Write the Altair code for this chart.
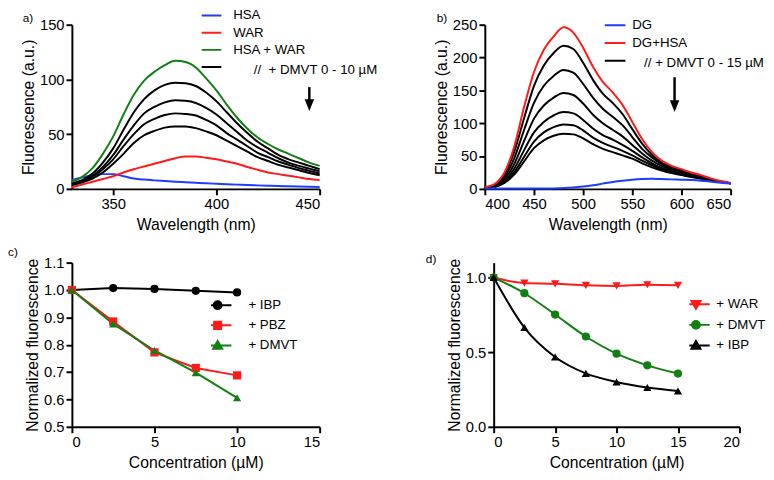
import altair as alt
import pandas as pd

FONT = "Liberation Sans"
BLUE = "#1f3cff"
RED = "#ff1a1a"
GREEN = "#127f12"
BLACK = "#000000"

# ---------------- Panel a ----------------
wl_a = [330, 335, 340, 345, 350, 355, 360, 365, 370, 375, 380, 385, 390, 395,
        400, 405, 410, 415, 420, 425, 430, 435, 440, 445, 450]
a_hsa = [8, 10.5, 12.5, 13.5, 13.5, 11.5, 9.5, 8.5, 7.8, 7.2, 6.6, 6.1, 5.6, 5.1,
         4.7, 4.3, 3.9, 3.5, 3.2, 2.9, 2.6, 2.4, 2.2, 2.0, 1.8]
a_war = [1.5, 4, 6.5, 9, 11.5, 15, 18, 20.5, 23, 25.5, 28, 29.5, 29.5, 28.5,
         27, 25, 23, 20, 17.5, 15, 13.5, 12, 10.5, 9, 8]
a_hsa_war = [6.5, 11, 19, 32, 48, 68, 86, 99, 107, 113, 117, 116, 111, 101,
             90, 77, 65, 55, 47, 41, 36, 32, 28, 24, 21]
a_dmvt = [
    [5, 8, 14, 24, 37, 54, 70, 82, 90, 95, 97, 96.5, 94, 88, 80, 70, 60, 51, 43, 37, 31, 27, 24, 21, 18],
    [4.5, 7, 12, 20, 31, 45, 58, 69, 75, 79, 81, 80.5, 78.5, 74, 68, 60, 52, 44, 38, 33, 28, 24, 21, 18.5, 16],
    [4, 6.5, 11, 18, 27, 39, 50, 59, 64, 67.5, 69, 68.5, 67, 63, 58, 51, 45, 39, 33, 29, 25, 22, 19, 16.5, 14],
    [3.5, 6, 9.5, 15, 23, 32, 42, 49, 53, 56, 57, 57, 55.5, 52.5, 49, 44, 39, 34, 29, 25.5, 22, 19.5, 17, 14.5, 12.5],
]
names_a = ["HSA", "WAR", "HSA + WAR", "DMVT"]
dmvt_text_a = "//\u00a0\u00a0+ DMVT 0 - 10 \u00b5M"
arrow_a_x = 445
arrow_a_shaft = [93, 81]
arrow_a_head = 76.5

# ---------------- Panel b ----------------
wl_b = [400, 410, 420, 430, 440, 450, 460, 470, 480, 490, 500, 510, 520, 530,
        540, 550, 560, 570, 580, 590, 600, 610, 620, 630, 640, 650]
b_dg = [0.5, 0.5, 0.5, 0.5, 0.5, 0.5, 0.6, 0.8, 1.2, 2, 3.5, 5.5, 8, 10.5,
        12.5, 14, 15, 15.5, 15, 14.5, 14, 13.5, 12.5, 11, 9.5, 8]
b_dg_hsa = [2.5, 7.5, 25, 65, 125, 178, 212, 232, 246, 238, 215, 186, 163, 147,
            128, 102, 76, 56, 43, 35, 30, 25, 21, 16, 12, 9]
b_dmvt = [
    [2, 6, 22, 57, 108, 157, 188, 207, 218, 213, 192, 166, 145, 131, 114, 91, 69, 52, 40, 33, 28, 23, 19, 15, 11, 8.5],
    [2, 5, 18, 47, 90, 131, 157, 172, 181, 177, 160, 139, 122, 110, 97, 79, 61, 48, 38, 31, 27, 22, 18, 14.5, 11, 8.5],
    [2, 4.5, 15, 38, 73, 107, 127, 139, 146, 143, 130, 113, 100, 90, 80, 67, 54, 43, 35, 29, 25, 21, 17, 14, 11, 8.5],
    [1.5, 3.5, 12, 31, 59, 86, 102, 112, 117, 115, 105, 92, 82, 75, 67, 58, 48, 39, 32, 27, 23, 20, 16.5, 13.5, 10.5, 8.5],
    [1.5, 3, 10, 26, 49, 72, 86, 94, 98, 97, 89, 78, 70, 64, 58, 51, 43, 36, 30, 25, 22, 19, 16, 13, 10.5, 8.5],
    [1, 3, 9, 22, 42, 62, 74, 81, 84, 83, 77, 68, 61, 56, 51, 46, 39, 33, 28, 24, 21, 18, 15.5, 13, 10.5, 8.5],
]
names_b = ["DG", "DG+HSA", "DMVT"]
dmvt_text_b = "// + DMVT 0 - 15 \u00b5M"
arrow_b_x = 593
arrow_b_shaft = [170, 130]
arrow_b_head = 126

# ---------------- Panel c ----------------
conc_c = [0, 2.5, 5, 7.5, 10]
c_ibp = [1.0, 1.007, 1.004, 0.997, 0.991]
c_pbz = [1.0, 0.885, 0.772, 0.715, 0.688]
c_dmvt = [1.0, 0.876, 0.779, 0.698, 0.606]
names_c = ["+ IBP", "+ PBZ", "+ DMVT"]

# ---------------- Panel d ----------------
conc_d = [0, 2.5, 5, 7.5, 10, 12.5, 15]
d_war = [1.0, 0.963, 0.958, 0.948, 0.944, 0.952, 0.948]
d_dmvt = [1.0, 0.895, 0.752, 0.605, 0.49, 0.412, 0.357]
d_ibp = [1.0, 0.665, 0.468, 0.358, 0.30, 0.263, 0.24]
names_d = ["+ WAR", "+ DMVT", "+ IBP"]

INDEP = dict(color="independent", fill="independent", stroke="independent",
             shape="independent", x="independent", y="independent")
LEG_FS = 13.5


# ---------------- helpers ----------------
def spectra_df(wl, series_list):
    rows = []
    for name, cid, vals in series_list:
        for w, v in zip(wl, vals):
            rows.append({"wl": w, "f": v, "series": name, "curve": cid})
    return pd.DataFrame(rows)


def text_layer(text, dx, dy, size=12):
    return alt.Chart(pd.DataFrame({"t": [text]})).mark_text(
        align="left", baseline="middle", fontSize=size, font=FONT, color="black"
    ).encode(text="t:N", x=alt.value(dx), y=alt.value(dy))


def arrow_layers(x, shaft, head, xenc, yenc):
    sdf = pd.DataFrame({"wl": [x], "f": [shaft[0]], "f2": [shaft[1]]})
    hdf = pd.DataFrame({"wl": [x], "f": [head]})
    s = alt.Chart(sdf).mark_rule(color="black", strokeWidth=2.5).encode(x=xenc, y=yenc, y2="f2:Q")
    h = alt.Chart(hdf).mark_point(shape="M-0.8,-1L0.8,-1L0,1Z", filled=True, size=144,
                                  color="black", opacity=1).encode(x=xenc, y=yenc)
    return s, h


def line_legend(lx, ly, size, offset, rowpad):
    return alt.Legend(orient="none", legendX=lx, legendY=ly, title=None, symbolType="stroke",
                      symbolSize=size, symbolStrokeWidth=2, labelFontSize=LEG_FS, labelFont=FONT,
                      labelOffset=offset, clipHeight=16, rowPadding=rowpad, labelLimit=300,
                      padding=0, labelColor="black",
                      labelExpr="datum.label == 'DMVT' ? '' : datum.label")


XAX = dict(labelPadding=2, titlePadding=5)
YAX = dict(labelPadding=2, titlePadding=3)

# ---------------- Panel a chart ----------------
ser_a = [(names_a[0], "hsa", a_hsa), (names_a[1], "war", a_war)]
ser_a += [(names_a[3], f"d{i}", v) for i, v in enumerate(a_dmvt)]
ser_a += [(names_a[2], "hw", a_hsa_war)]
df_a = spectra_df(wl_a, ser_a)
xa = alt.X("wl:Q", scale=alt.Scale(domain=[330, 450], nice=False, zero=False),
           axis=alt.Axis(values=[350, 400, 450], title="Wavelength (nm)", **XAX))
ya = alt.Y("f:Q", scale=alt.Scale(domain=[0, 150], nice=False),
           axis=alt.Axis(values=[0, 50, 100, 150], title="Fluorescence (a.u.)", **YAX))
lines_a = alt.Chart(df_a).mark_line(strokeWidth=2, interpolate="monotone").encode(
    x=xa, y=ya,
    color=alt.Color("series:N", scale=alt.Scale(domain=names_a, range=[BLUE, RED, GREEN, BLACK]),
                    legend=line_legend(131, -17.4, 400, 11, 1.5)),
    detail="curve:N",
)
sa, ha = arrow_layers(arrow_a_x, arrow_a_shaft, arrow_a_head, xa, ya)
panel_a = alt.layer(
    lines_a, sa, ha, text_layer("a)", -50, -7), text_layer(dmvt_text_a, 185, 45.8, LEG_FS)
).properties(width=252, height=167)

# ---------------- Panel b chart ----------------
ser_b = [(names_b[2], f"d{i}", v) for i, v in enumerate(b_dmvt)]
ser_b += [(names_b[1], "dh", b_dg_hsa), (names_b[0], "dg", b_dg)]
df_b = spectra_df(wl_b, ser_b)
xb = alt.X("wl:Q", scale=alt.Scale(domain=[400, 650], nice=False, zero=False),
           axis=alt.Axis(values=[400, 450, 500, 550, 600, 650], title="Wavelength (nm)", **XAX))
yb = alt.Y("f:Q", scale=alt.Scale(domain=[0, 250], nice=False),
           axis=alt.Axis(values=[0, 50, 100, 150, 200, 250], title="Fluorescence (a.u.)", **YAX))
lines_b = alt.Chart(df_b).mark_line(strokeWidth=2, interpolate="monotone").encode(
    x=xb, y=yb,
    color=alt.Color("series:N", scale=alt.Scale(domain=names_b, range=[BLUE, RED, BLACK]),
                    legend=line_legend(121, -7.4, 441, 6, 2)),
    detail="curve:N",
)
sb, hb = arrow_layers(arrow_b_x, arrow_b_shaft, arrow_b_head, xb, yb)
panel_b = alt.layer(
    lines_b, sb, hb, text_layer("b)", -49, -7), text_layer(dmvt_text_b, 162, 39.3, LEG_FS)
).properties(width=250, height=167)

# ---------------- point panels ----------------
CIRC = "M-3.5,0L3.5,0M-1,0A1,1,0,1,1,1,0A1,1,0,1,1,-1,0Z"
SQR = "M-3.5,0L3.5,0M-0.9,-0.9L0.9,-0.9L0.9,0.9L-0.9,0.9Z"
TUP = "M-3.5,0L3.5,0M0,-1.15L1.15,0.85L-1.15,0.85Z"
TDN = "M-3.5,0L3.5,0M0,1.15L1.15,-0.85L-1.15,-0.85Z"


def point_panel(conc, series, names, colors, shapes, legshapes, xdom, xvals, ydom, yvals,
                interp, lx, ly, loff, rowpad, lab, ldx, ldy):
    rows = []
    for name, vals in zip(names, series):
        for c, v in zip(conc, vals):
            rows.append({"c": c, "v": v, "series": name})
    df = pd.DataFrame(rows)
    x = alt.X("c:Q", scale=alt.Scale(domain=xdom, nice=False, zero=False),
              axis=alt.Axis(values=xvals, title="Concentration (\u00b5M)", **XAX))
    y = alt.Y("v:Q", scale=alt.Scale(domain=ydom, nice=False, zero=False),
              axis=alt.Axis(values=yvals, format=".1f", title="Normalized fluorescence", **YAX))
    layers = []
    for name, col in zip(names, colors):
        layers.append(
            alt.Chart(df).transform_filter(alt.datum.series == name)
            .mark_line(strokeWidth=2, interpolate=interp, color=col)
            .encode(x=x, y=y)
        )
    for name, shp, col in zip(names, shapes, colors):
        layers.append(
            alt.Chart(df).transform_filter(alt.datum.series == name)
            .mark_point(filled=True, size=70, opacity=1, shape=shp, color=col)
            .encode(x=x, y=y)
        )
    leg = alt.Legend(orient="none", legendX=lx, legendY=ly, title=None, symbolSize=64,
                     symbolStrokeWidth=2, symbolOpacity=1, labelFontSize=LEG_FS, labelFont=FONT,
                     labelOffset=loff, clipHeight=16, rowPadding=rowpad, padding=0,
                     labelColor="black")
    legl = alt.Chart(df).mark_point(filled=True, size=64, opacity=0).encode(
        x=x, y=y,
        fill=alt.Fill("series:N", scale=alt.Scale(domain=names, range=colors), legend=leg),
        stroke=alt.Stroke("series:N", scale=alt.Scale(domain=names, range=colors), legend=leg),
        shape=alt.Shape("series:N", scale=alt.Scale(domain=names, range=legshapes), legend=leg),
    )
    layers.append(legl)
    layers.append(text_layer(lab, ldx, ldy))
    return alt.layer(*layers)


panel_c = point_panel(conc_c, [c_ibp, c_pbz, c_dmvt], names_c, [BLACK, RED, GREEN],
                      ["circle", "square", "triangle-up"], [CIRC, SQR, TUP],
                      [0, 15], [0, 5, 10, 15], [0.5, 1.1], [0.5, 0.6, 0.7, 0.8, 0.9, 1.0, 1.1],
                      "linear", 141.5, 35.3, 24.5, 4.5, "c)", -65, -11).properties(width=252, height=167)

panel_d = point_panel(conc_d, [d_war, d_dmvt, d_ibp], names_d, [RED, GREEN, BLACK],
                      ["triangle-down", "circle", "triangle-up"], [TDN, CIRC, TUP],
                      [0, 20], [0, 5, 10, 15, 20], [0, 1.1], [0.0, 0.5, 1.0],
                      "monotone", 199, 34.3, 14, 5, "d)", -69, -4).properties(width=250, height=167)

top = alt.hconcat(panel_a, panel_b, spacing=168, bounds="flush").resolve_scale(**INDEP)
bottom = alt.hconcat(panel_c, panel_d, spacing=177, bounds="flush").resolve_scale(**INDEP)

chart = alt.vconcat(top, bottom, spacing=14).resolve_scale(**INDEP).properties(
    padding={"left": 0, "top": -5, "right": 0, "bottom": 0}, background="white"
).configure_view(stroke=None).configure_axis(
    grid=False, domainColor="black", domainWidth=2, tickColor="black", tickWidth=2,
    tickSize=6, labelFont=FONT, labelFontSize=15, labelColor="black",
    titleFont=FONT, titleFontSize=16, titleFontWeight="normal", titleColor="black"
)

chart.save("out.html", embed_options={"renderer": "svg", "actions": False})
